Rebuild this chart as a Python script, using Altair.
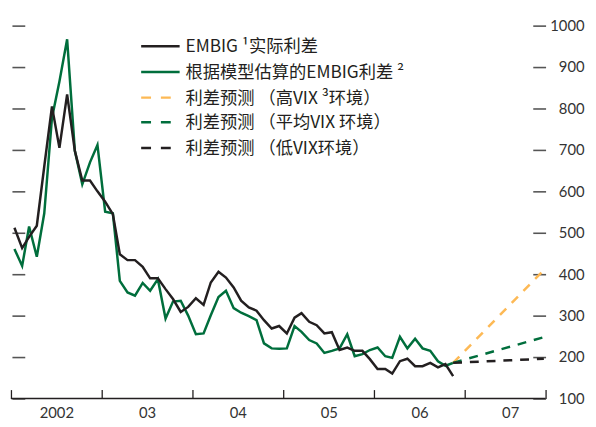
import altair as alt
import pandas as pd

# ---------------- data ----------------
dates = [f"{2002 + i // 12}-{i % 12 + 1:02d}-15" for i in range(59)]  # Jan 2002 .. Nov 2006

actual = [512, 463, 490, 517, 660, 805, 705, 834, 698, 626, 626, 600,
          575, 545, 448, 434, 434, 418, 390, 390, 364, 340, 309, 321,
          342, 326, 380, 406, 392, 368, 336, 320, 312, 289, 269, 275,
          257, 295, 306, 285, 277, 257, 260, 217, 223, 215, 215, 195,
          171, 171, 160, 190, 196, 178, 178, 186, 175, 183, 154]

model = [461, 420, 515, 442, 547, 777, 865, 967, 698, 617, 670, 712,
         551, 547, 384, 356, 348, 379, 360, 388, 293, 334, 336, 300,
         255, 257, 301, 345, 360, 318, 307, 299, 289, 233, 221, 220,
         221, 275, 261, 241, 233, 210, 215, 221, 255, 202, 207, 217,
         223, 202, 198, 249, 221, 244, 221, 215, 190, 179, 186]

fc_dates = ["2006-11-15", "2007-11-15"]
fc_high = [186, 410]
fc_avg = [186, 248]
fc_low = [186, 196]

y_ticks = [100, 200, 300, 400, 500, 600, 700, 800, 900, 1000]
year_starts = [2002, 2003, 2004, 2005, 2006, 2007]

legend_labels = [
    "EMBIG ¹实际利差",
    "根据模型估算的EMBIG利差 ²",
    "利差预测 （高VIX ³环境）",
    "利差预测 （平均VIX  环境）",
    "利差预测 （低VIX环境）",
]

BLACK = "#231f20"
GREEN = "#006e3c"
YELLOW = "#fdb955"
legend_colors = [BLACK, GREEN, YELLOW, GREEN, BLACK]
legend_dashed = [False, False, True, True, True]

# ---------------- tables ----------------
df_actual = pd.DataFrame({"date": dates, "value": actual})
df_model = pd.DataFrame({"date": dates, "value": model})
df_high = pd.DataFrame({"date": fc_dates, "value": fc_high})
df_avg = pd.DataFrame({"date": fc_dates, "value": fc_avg})
df_low = pd.DataFrame({"date": fc_dates, "value": fc_low})

end_dt = alt.DateTime(year=2007, month=11, date=22, utc=True)
x_scale = alt.Scale(type="utc",
                    domain=[alt.DateTime(year=2002, month=1, date=1, utc=True), end_dt])
x_axis = alt.Axis(
    values=[alt.DateTime(year=y, month=1, date=1, utc=True) for y in year_starts] + [end_dt],
    offset=-9, tickSize=9, domain=False, grid=False, title=None,
    labelExpr="utcyear(datum.value) == 2002 ? '2002' : (utcmonth(datum.value) != 0 ? '' : utcFormat(datum.value, '%y'))",
    labelOffset=46, labelPadding=7, labelFont="Lato", labelFontSize=15,
    labelColor="#333333", labelAngle=0, labelAlign="center", labelBaseline="top",
    labelFlush=False, labelOverlap=False, tickColor=BLACK, tickWidth=1.3,
)
x_enc = alt.X("date:T", scale=x_scale, axis=x_axis)
y_scale = alt.Scale(domain=[100, 1000], nice=False, zero=False)

y_left = alt.Axis(orient="left", offset=-14, tickSize=13, domain=False, grid=False,
                  labels=False, values=y_ticks, tickColor="#555555", tickWidth=1.6,
                  title=None)
y_right = alt.Axis(orient="right", offset=-13, tickSize=13, domain=False, grid=False,
                   values=y_ticks, tickColor="#555555", tickWidth=1.6, title=None,
                   format="d",
                   labelAlign="right", labelPadding=39, labelBaseline="middle",
                   labelFont="Lato", labelFontSize=15, labelColor="#333333",
                   labelFlush=False, labelOverlap=False)

green_line = alt.Chart(df_model).mark_line(color=GREEN, strokeWidth=2.5).encode(
    x=x_enc, y=alt.Y("value:Q", scale=y_scale, axis=y_right))
black_line = alt.Chart(df_actual).mark_line(color=BLACK, strokeWidth=2.5).encode(
    x=x_enc, y=alt.Y("value:Q", scale=y_scale, axis=y_left))


def fc(df, color):
    return alt.Chart(df).mark_line(color=color, strokeWidth=2.5, strokeDash=[9, 8]).encode(
        x=x_enc, y=alt.Y("value:Q", scale=y_scale, axis=None))


baseline = alt.Chart(pd.DataFrame({"v": [100]})).mark_rule(color=BLACK, strokeWidth=1.3).encode(
    y=alt.Y("v:Q", scale=y_scale, axis=None))

layers = [green_line, black_line, fc(df_high, YELLOW), fc(df_avg, GREEN), fc(df_low, BLACK), baseline]

row_y = [21, 47, 73, 98, 124]
for lab, col, dashed, ry in zip(legend_labels, legend_colors, legend_dashed, row_y):
    d = pd.DataFrame({"label": [lab]})
    rule_kw = dict(color=col, strokeWidth=2.5)
    if dashed:
        rule_kw["strokeDash"] = [10, 10]
    layers.append(alt.Chart(d).mark_rule(**rule_kw).encode(
        x=alt.value(132), x2=alt.value(171), y=alt.value(ry)))
    layers.append(alt.Chart(d).mark_text(
        align="left", baseline="middle", font="Noto Sans CJK SC", fontSize=17.5,
        color=BLACK).encode(x=alt.value(177), y=alt.value(ry + 1), text="label:N"))

chart = alt.layer(*layers).resolve_axis(y="independent").properties(
    width=542, height=378,
    padding={"left": 3, "top": 15, "right": 43, "bottom": 24},
    autosize=alt.AutoSizeParams(type="none"),
).configure_view(stroke=None)

chart.save("out.html", embed_options={"renderer": "svg", "actions": False})
